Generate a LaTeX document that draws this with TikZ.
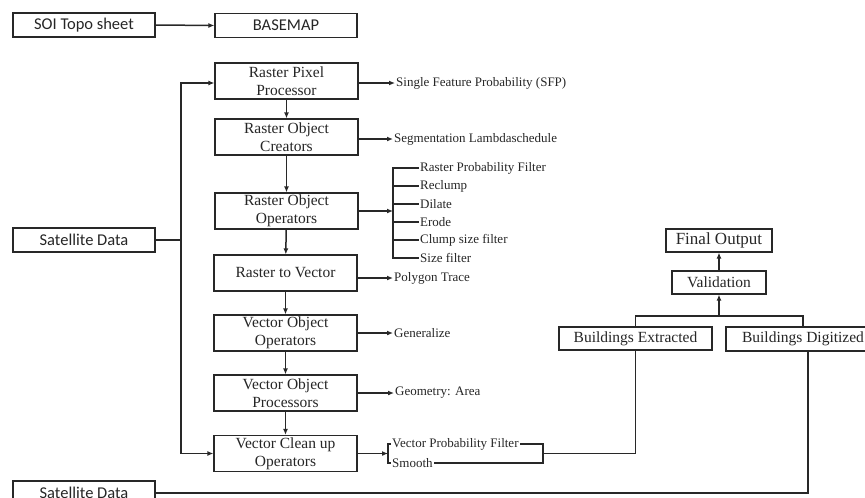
\documentclass[tikz,border=0pt]{standalone}
\usepackage{fontspec}
\setmainfont{Liberation Serif}
\newfontfamily\calfont{Carlito}
\usetikzlibrary{arrows.meta}
\definecolor{lc}{RGB}{40,40,40}
\begin{document}
\begin{tikzpicture}[x=1pt,y=-1pt,
  ln/.style={line width=1.5pt,draw=lc},
  arr/.style={ln,-{Latex[length=6pt,width=5pt]}},
  box/.style={draw=lc,line width=1.2pt,fill=white,inner sep=0pt,minimum width=143pt,minimum height=36pt,align=center,text=black!85,font=\fontsize{15.5}{18}\selectfont},
  wbox/.style={draw=lc,line width=1.2pt,fill=white,inner sep=0pt,minimum height=23pt,text=black!85,font=\fontsize{15.5}{18}\selectfont},
  sbox/.style={draw=lc,line width=1.2pt,fill=white,inner sep=0pt,minimum width=142pt,minimum height=24pt,text=black!85,font=\calfont\fontsize{16.5}{18}\selectfont},
  lbl/.style={anchor=west,inner sep=1pt,text=black!85,font=\fontsize{13}{15}\selectfont},
]
\useasboundingbox (0,0) rectangle (865,498);

% top row
\node[sbox] (soi) at (84,25) {SOI Topo sheet};
\node[sbox] (base) at (286,25.5) {BASEMAP};
\draw[arr] (soi.east) -- (base.west);

% satellite data
\node[sbox] (sat1) at (84,240) {Satellite Data};
\node[sbox] (sat2) at (84,493) {Satellite Data};

% main column
\node[box] (rpp) at (286.5,81) {Raster Pixel\\Processor};
\node[box] (roc) at (286.5,137) {Raster Object\\Creators};
\node[box] (roo) at (286.5,211) {Raster Object\\Operators};
\node[box] (rtv) at (285.5,273) {Raster to Vector};
\node[box] (voo) at (285.5,333) {Vector Object\\Operators};
\node[box] (vop) at (285.5,393) {Vector Object\\Processors};
\node[box] (vco) at (285.5,453.5) {Vector Clean up\\Operators};

\draw[arr] (rpp) -- (roc);
\draw[arr] (roc) -- (roo);
\draw[arr] (roo) -- (rtv);
\draw[arr] (rtv) -- (voo);
\draw[arr] (voo) -- (vop);
\draw[arr] (vop) -- (vco);

% left feed
\coordinate (lt) at (181,83);
\coordinate (lb) at (181,453.5);
\draw[ln] (sat1.east) -- (sat1.east -| lt);
\draw[arr] (lb) -- (lt) -- (rpp.west |- lt);
\draw[arr] (lb) -- (vco.west |- lb);

% side labels
\node[lbl] (sfp) at (395,83) {Single Feature Probability (SFP)};
\draw[arr] (rpp.east |- sfp.west) -- (sfp.west);
\node[lbl] (seg) at (393,139) {Segmentation Lambdaschedule};
\draw[arr] (roc.east |- seg.west) -- (seg.west);
\node[lbl] (pol) at (393,278) {Polygon Trace};
\draw[arr] (rtv.east |- pol.west) -- (pol.west);
\node[lbl] (gen) at (393,333) {Generalize};
\draw[arr] (voo.east |- gen.west) -- (gen.west);
\node[lbl] (geo) at (394,393) {Geometry: Area};
\draw[arr] (vop.east |- geo.west) -- (geo.west);

% raster object operators bracket
\coordinate (rb) at (393,211);
\node[lbl] (o1) at (419,168) {Raster Probability Filter};
\node[lbl] (o2) at (419,186) {Reclump};
\node[lbl] (o3) at (419,204) {Dilate};
\node[lbl] (o4) at (419,222) {Erode};
\node[lbl] (o5) at (419,240) {Clump size filter};
\node[lbl] (o6) at (419,258) {Size filter};
\draw[arr] (roo.east |- rb) -- (rb);
\draw[ln] (o1.west) -- (o1.west -| rb) -- (o6.west -| rb) -- (o6.west);
\foreach \n in {o2,o3,o4,o5} \draw[ln] (\n.west -| rb) -- (\n.west);

% vector clean up bracket
\coordinate (vb) at (388,453.5);
\node[lbl] (vpf) at (391,444) {Vector Probability Filter};
\node[lbl] (smo) at (391,463) {Smooth};
\draw[arr] (vco.east |- vb) -- (vb);
\draw[ln] (vpf.west) -- (vpf.west -| vb) -- (smo.west -| vb) -- (smo.west);
\coordinate (vr) at (543,453.5);
\draw[ln] (vpf.east) -- (vpf.east -| vr) -- (smo.east -| vr) -- (smo.east);

% buildings
\node[wbox,minimum width=153pt] (be) at (635.5,338.5) {Buildings Extracted};
\node[wbox,minimum width=154pt,minimum height=24pt] (bd) at (803,339) {Buildings Digitized};
\node[wbox,minimum width=94pt] (val) at (719,282.5) {Validation};
\node[wbox,minimum width=106pt,font=\fontsize{17}{20}\selectfont] (fo) at (719,240.5) {Final Output};

\draw[ln] (vr) -- (vr -| be.south) -- (be.south);
\coordinate (jt) at (719,316);
\draw[ln] (be.north) -- (be.north |- jt) -- (bd.north |- jt) -- (bd.north);
\draw[arr] (jt) -- (val.south);
\draw[arr] (val.north) -- (fo.south);

\coordinate (bdl) at (808,493);
\draw[ln] (bdl |- bd.south) -- (bdl) -- (sat2.east |- bdl);
\end{tikzpicture}
\end{document}
